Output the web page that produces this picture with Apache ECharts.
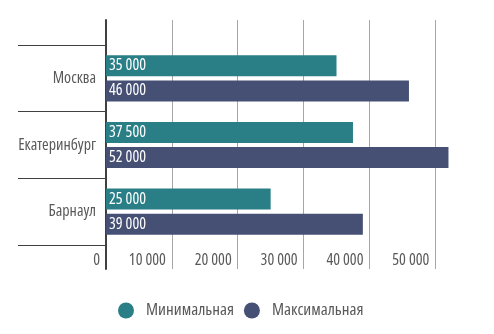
<!DOCTYPE html>
<html><head><meta charset="utf-8">
<script src="https://cdn.jsdelivr.net/npm/echarts@6/dist/echarts.min.js"></script>
<style>html,body{margin:0;padding:0;background:#fff}#c{width:494px;height:334px}</style>
</head><body><div id="c"></div>
<script>
const categories = ['Москва', 'Екатеринбург', 'Барнаул'];
const minValues = [35000, 37500, 25000];
const maxValues = [46000, 52000, 39000];
const seriesNames = ['Минимальная', 'Максимальная'];
const xTicks = [0, 10000, 20000, 30000, 40000, 50000];

const FONT = '"Open Sans"';
const FW = 'condensed';
const fmt = v => String(v).replace(/\B(?=(\d{3})+(?!\d))/g, ' ');
const chart = echarts.init(document.getElementById('c'), null, {renderer: 'canvas'});
const L = 106, W = 329.3;
chart.setOption({
  animation: false,
  textStyle: {fontFamily: FONT, fontWeight: FW},
  legend: {
    data: seriesNames, left: 113, top: 297, icon: 'circle', itemWidth: 30, itemHeight: 16, itemGap: 10,
    textStyle: {fontFamily: FONT, fontWeight: FW, fontSize: 17, color: '#595959'}
  },
  grid: [
    {left: L, width: W, top: 45, height: 200},
    {left: L, width: W, top: 20, height: 249}
  ],
  xAxis: [
    {gridIndex: 0, type: 'value', min: xTicks[0], max: xTicks[xTicks.length - 1], interval: 10000,
     axisLine: {show: false}, axisTick: {show: false}, splitLine: {show: false},
     axisLabel: {formatter: fmt, align: 'right', padding: [0, 6, 0, 0], margin: 7, fontFamily: FONT, fontWeight: FW, fontSize: 16, color: '#595959'}},
    {gridIndex: 1, type: 'value', min: xTicks[0], max: xTicks[xTicks.length - 1], interval: 10000,
     axisLine: {show: false}, axisTick: {show: false}, axisLabel: {show: false},
     splitLine: {show: true, lineStyle: {color: '#a6a6a6', width: 1}}}
  ],
  yAxis: [
    {gridIndex: 0, type: 'category', data: categories, inverse: true,
     axisLine: {show: false},
     axisTick: {show: true, length: 88, interval: 0, lineStyle: {color: '#404040', width: 1}},
     axisLabel: {margin: 10, fontFamily: FONT, fontWeight: FW, fontSize: 16, color: '#595959'}},
    {gridIndex: 1, type: 'value', min: 0, max: 1,
     axisLine: {show: true, onZero: false, lineStyle: {color: '#404040', width: 2}},
     axisTick: {show: false}, axisLabel: {show: false}, splitLine: {show: false}}
  ],
  series: [
    {name: seriesNames[0], type: 'bar', xAxisIndex: 0, yAxisIndex: 0, data: minValues, clip: false,
     barWidth: 21, barGap: '20%', itemStyle: {color: '#2a7f87'},
     label: {show: true, position: 'insideLeft', distance: 3, color: '#fff', fontFamily: FONT, fontWeight: FW, fontSize: 16, formatter: p => fmt(p.value)}},
    {name: seriesNames[1], type: 'bar', xAxisIndex: 0, yAxisIndex: 0, data: maxValues, clip: false,
     barWidth: 21, barGap: '20%', itemStyle: {color: '#465074'},
     label: {show: true, position: 'insideLeft', distance: 3, color: '#fff', fontFamily: FONT, fontWeight: FW, fontSize: 16, formatter: p => fmt(p.value)}}
  ]
});
</script></body></html>
